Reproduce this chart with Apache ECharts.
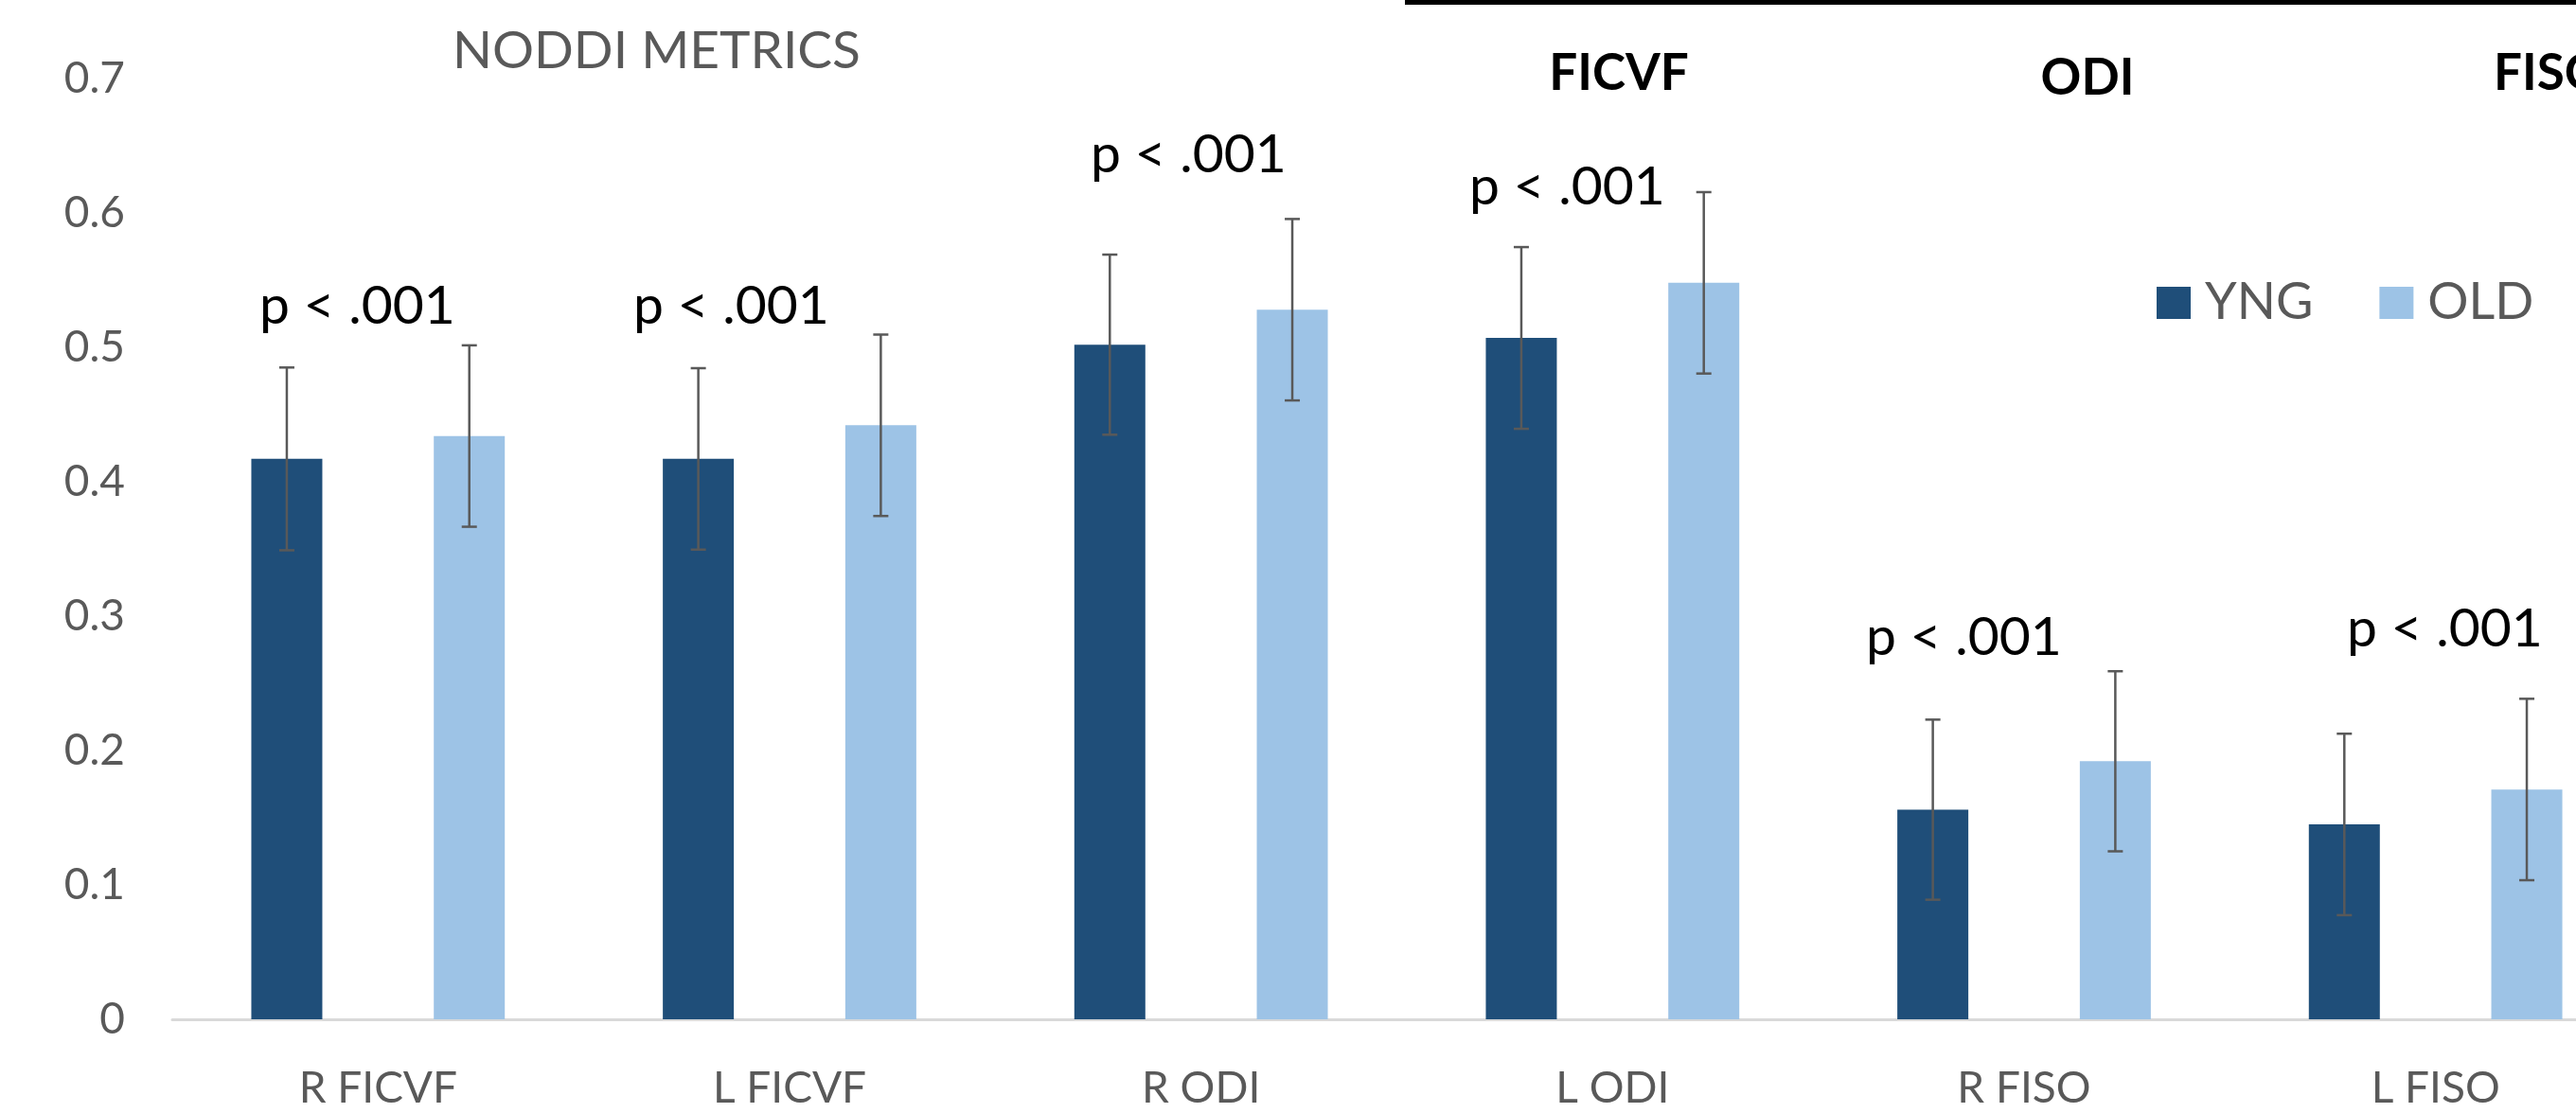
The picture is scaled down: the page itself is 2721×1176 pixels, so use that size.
<!DOCTYPE html>
<html>
<head>
<meta charset="utf-8">
<script src="https://cdn.jsdelivr.net/npm/echarts@6/dist/echarts.min.js"></script>
<style>
html,body{margin:0;padding:0;background:#fff;overflow:hidden;width:2721px;height:1176px;}
#main{width:2790px;height:1176px;}
</style>
</head>
<body>
<div id="main"></div>
<script>
// ---- data ----
const categories = ['R FICVF', 'L FICVF', 'R ODI', 'L ODI', 'R FISO', 'L FISO'];
const seriesNames = ['YNG', 'OLD'];
const yngMean = [0.417, 0.417, 0.502, 0.507, 0.156, 0.145];
const oldMean = [0.434, 0.442, 0.528, 0.548, 0.192, 0.171];
const yngErr  = [0.068, 0.0675, 0.067, 0.0676, 0.067, 0.0675];
const oldErr  = [0.0675, 0.0675, 0.0675, 0.0675, 0.067, 0.0675];
const yTicks = [0, 0.1, 0.2, 0.3, 0.4, 0.5, 0.6, 0.7];
const pLabel = 'p < .001';
const chartTitle = 'NODDI METRICS';
const headers = ['FICVF', 'ODI', 'FISO'];

const COL_YNG = '#1F4E79';
const COL_OLD = '#9DC3E6';
const BAR_W = 75;
const BAR_GAP = 1.57;
const FONT = 'Lato, "Open Sans", sans-serif';

function errData(mean, err) {
  return mean.map((m, i) => [i, m - err[i], m + err[i]]);
}

function errRender(offsetSign) {
  return function (params, api) {
    const i = api.value(0);
    const lo = api.coord([i, api.value(1)]);
    const hi = api.coord([i, api.value(2)]);
    const off = offsetSign * (BAR_W + BAR_W * BAR_GAP) / 2;
    const x = lo[0] + off;
    const cap = 8;
    const style = { stroke: '#595959', lineWidth: 2.5 };
    return {
      type: 'group',
      children: [
        { type: 'line', shape: { x1: x, y1: hi[1], x2: x, y2: lo[1] }, style: style },
        { type: 'line', shape: { x1: x - cap, y1: hi[1], x2: x + cap, y2: hi[1] }, style: style },
        { type: 'line', shape: { x1: x - cap, y1: lo[1], x2: x + cap, y2: lo[1] }, style: style }
      ]
    };
  };
}

const chart = echarts.init(document.getElementById('main'), null, { renderer: 'canvas' });

const pPositions = [
  [274, 324], [669, 324], [1152, 164], [1552, 198], [1971, 674], [2479, 665]
];

const graphics = [
  { type: 'rect', left: 1484, top: 0, shape: { width: 1310, height: 5 }, style: { fill: '#000' } },
  { type: 'text', x: 1710, y: 78, style: { text: headers[0], font: 'bold 53px ' + FONT, fill: '#000', align: 'center', verticalAlign: 'middle' } },
  { type: 'text', x: 2205, y: 83, style: { text: headers[1], font: 'bold 53px ' + FONT, fill: '#000', align: 'center', verticalAlign: 'middle' } },
  { type: 'text', x: 2634, y: 78, style: { text: headers[2], font: 'bold 53px ' + FONT, fill: '#000', align: 'left', verticalAlign: 'middle' } }
];
pPositions.forEach(p => {
  graphics.push({ type: 'text', x: p[0], y: p[1], style: { text: pLabel, font: '57px ' + FONT, fill: '#000', align: 'left', verticalAlign: 'middle' } });
});

const option = {
  animation: false,
  backgroundColor: '#fff',
  title: {
    text: chartTitle,
    left: 478,
    top: 27,
    padding: 0,
    textStyle: { fontFamily: FONT, fontSize: 55, fontWeight: 'normal', color: '#595959' }
  },
  legend: {
    data: seriesNames,
    left: 2278,
    top: 293,
    padding: 0,
    itemWidth: 36,
    itemHeight: 34,
    itemGap: 70,
    icon: 'rect',
    textStyle: { fontFamily: FONT, fontSize: 54, color: '#595959', padding: [0, 0, 0, 10] }
  },
  grid: { left: 182, right: 0, top: 83, bottom: 99, containLabel: false },
  xAxis: {
    type: 'category',
    data: categories,
    axisLine: { show: true, lineStyle: { color: '#D9D9D9', width: 3 } },
    axisTick: { show: false },
    axisLabel: { margin: 50, fontFamily: FONT, fontSize: 46, color: '#595959' },
    splitLine: { show: false }
  },
  yAxis: {
    type: 'value',
    min: yTicks[0],
    max: yTicks[yTicks.length - 1],
    interval: 0.1,
    axisLine: { show: false },
    axisTick: { show: false },
    splitLine: { show: false },
    axisLabel: {
      margin: 50, fontFamily: FONT, fontSize: 46, color: '#595959',
      formatter: v => String(Math.round(v * 10) / 10)
    }
  },
  graphic: graphics,
  series: [
    { name: seriesNames[0], type: 'bar', data: yngMean, barWidth: BAR_W, barGap: (BAR_GAP * 100) + '%', itemStyle: { color: COL_YNG } },
    { name: seriesNames[1], type: 'bar', data: oldMean, barWidth: BAR_W, barGap: (BAR_GAP * 100) + '%', itemStyle: { color: COL_OLD } },
    { name: 'yngErr', type: 'custom', data: errData(yngMean, yngErr), renderItem: errRender(-1), encode: { x: 0, y: [1, 2] }, z: 5 },
    { name: 'oldErr', type: 'custom', data: errData(oldMean, oldErr), renderItem: errRender(1), encode: { x: 0, y: [1, 2] }, z: 5 }
  ]
};
chart.setOption(option);
</script>
</body>
</html>
